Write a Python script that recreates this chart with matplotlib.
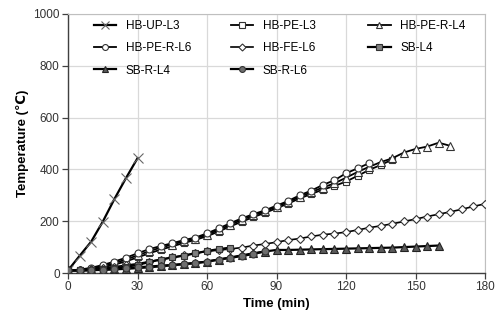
import matplotlib
matplotlib.use("Agg")
import matplotlib.pyplot as plt
from matplotlib.legend import Legend

plt.rcParams['font.family'] = ['Liberation Sans', 'DejaVu Sans']

# Time grids (min)
t_up = [0, 5, 10, 15, 20, 25, 30]
t_pe_l3 = list(range(0, 145, 5))
t_pe_r_l4 = list(range(0, 170, 5))
t_pe_r_l6 = list(range(0, 135, 5))
t_fe_l6 = list(range(0, 185, 5))
t_sb_l4 = list(range(0, 75, 5))
t_sb_r_l4 = list(range(0, 165, 5))
t_sb_r_l6 = list(range(0, 90, 5))

# Temperatures (°C)
hb_up_l3 = [10, 66, 121, 198, 285, 366, 443]
hb_pe_l3 = [10, 11, 15, 22, 32, 45, 60, 76, 90, 103, 116, 128, 142, 160, 180,
            198, 216, 232, 250, 268, 288, 305, 322, 336, 353, 375, 398, 417, 438]
hb_pe_r_l4 = [10, 12, 17, 26, 38, 52, 68, 84, 98, 110, 122, 133, 148, 166, 186,
              205, 222, 238, 256, 274, 294, 312, 330, 346, 368, 390, 410, 428,
              443, 465, 479, 488, 503, 491]
hb_pe_r_l6 = [10, 13, 20, 31, 44, 59, 76, 92, 104, 115, 127, 137, 153, 172, 192,
              211, 227, 242, 260, 278, 300, 318, 340, 358, 385, 404, 424]
hb_fe_l6 = [10, 12, 15, 19, 24, 30, 36, 44, 52, 60, 68, 76, 84, 88, 93, 98, 106,
            112, 119, 127, 133, 141, 148, 152, 158, 166, 175, 182, 190, 199, 208,
            218, 227, 236, 246, 257, 267]
sb_l4 = [10, 10, 12, 15, 19, 24, 31, 42, 52, 60, 67, 76, 85, 92, 98]
sb_r_l4 = [10, 10, 11, 12, 14, 16, 19, 22, 26, 30, 34, 38, 44, 52, 60, 68, 76,
           83, 89, 89, 90, 91, 92, 93, 94, 95, 96, 97, 98, 100, 102, 104, 106]
sb_r_l6 = [10, 10, 11, 13, 16, 19, 22, 25, 28, 31, 35, 39, 44, 52, 58, 66, 73, 84]

fig = plt.figure(figsize=(5.0, 3.25), dpi=100)
ax = fig.add_axes([0.136, 0.16, 0.834, 0.797])

series = [
    ("HB-UP-L3", t_up, hb_up_l3, dict(marker='x', mfc='none', mec='#666666', ms=7, mew=0.8, lw=1.6)),
    ("HB-PE-L3", t_pe_l3, hb_pe_l3, dict(marker='s', mfc='white', mec='#333333', ms=5, mew=0.8, lw=1.3)),
    ("HB-PE-R-L4", t_pe_r_l4, hb_pe_r_l4, dict(marker='^', mfc='white', mec='#333333', ms=5.5, mew=0.8, lw=1.3)),
    ("HB-PE-R-L6", t_pe_r_l6, hb_pe_r_l6, dict(marker='o', mfc='white', mec='#333333', ms=5, mew=0.8, lw=1.3)),
    ("HB-FE-L6", t_fe_l6, hb_fe_l6, dict(marker='D', mfc='white', mec='#333333', ms=4.2, mew=0.8, lw=1.2)),
    ("SB-L4", t_sb_l4, sb_l4, dict(marker='s', mfc='#7f7f7f', mec='#333333', ms=5, mew=0.8, lw=1.6)),
    ("SB-R-L4", t_sb_r_l4, sb_r_l4, dict(marker='^', mfc='#5a5a5a', mec='#222222', ms=5.5, mew=0.8, lw=1.6)),
    ("SB-R-L6", t_sb_r_l6, sb_r_l6, dict(marker='o', mfc='#6e6e6e', mec='#333333', ms=5, mew=0.8, lw=1.6)),
]

handles = {}
for name, t, y, st in series:
    ln, = ax.plot(t, y, color='black', label=name, zorder=3, **st)
    handles[name] = ln

ax.set_xlim(0, 180)
ax.set_ylim(0, 1000)
ax.set_xticks(range(0, 181, 30))
ax.set_yticks(range(0, 1001, 200))
ax.grid(True, color='#d9d9d9', lw=0.9)
ax.set_axisbelow(True)
for s in ['top', 'right']:
    ax.spines[s].set_color('#bfbfbf')
for s in ['left', 'bottom']:
    ax.spines[s].set_color('#404040')
    ax.spines[s].set_linewidth(1.0)
ax.tick_params(axis='both', direction='out', length=4, width=0.9, color='#404040',
               labelsize=8.5, labelcolor='#333333', pad=2)

ax.set_xlabel("Time (min)", fontsize=9.5, fontweight='bold', labelpad=3)
ax.set_ylabel("Temperature (℃)", fontsize=9.5, fontweight='bold', labelpad=3)

# Legend: three equally spaced columns, one legend per column
legend_cols = [["HB-UP-L3", "HB-PE-R-L6", "SB-R-L4"],
               ["HB-PE-L3", "HB-FE-L6", "SB-R-L6"],
               ["HB-PE-R-L4", "SB-L4"]]
col_x = [0.062, 0.391, 0.72]
for names, x in zip(legend_cols, col_x):
    leg = Legend(ax, [handles[n] for n in names], names, loc='upper left',
                 bbox_to_anchor=(x, 0.975), frameon=False, fontsize=8.5,
                 handlelength=1.9, handletextpad=0.8, labelspacing=0.85,
                 borderpad=0, borderaxespad=0, markerscale=0.85)
    ax.add_artist(leg)

fig.savefig("out.png", dpi=100)
